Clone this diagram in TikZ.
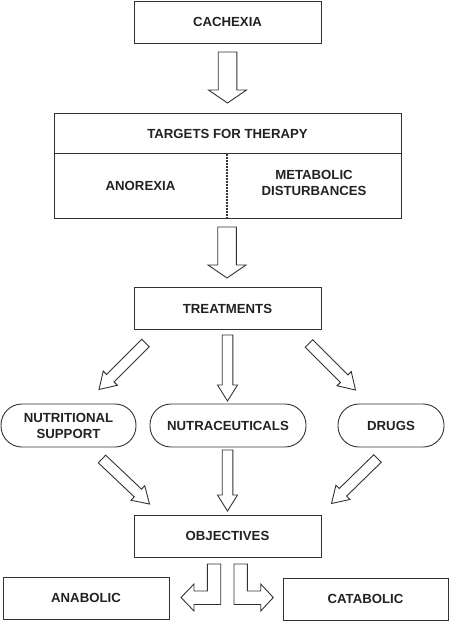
\documentclass[tikz,border=0pt]{standalone}
\usepackage{fontspec}
\setmainfont{Liberation Sans}
\usetikzlibrary{calc}
\definecolor{linec}{HTML}{333333}
\definecolor{txtc}{HTML}{222222}
\newcommand\blockarr[5]{%
  \coordinate (hb) at ($(#2)!#5!(#1)$);
  \draw[arr] ($(#1)!#3!90:(#2)$) -- ($(hb)!#3!90:(#2)$) -- ($(hb)!#4!90:(#2)$) -- (#2)
    -- ($(hb)!#4!-90:(#2)$) -- ($(hb)!#3!-90:(#2)$) -- ($(#1)!#3!-90:(#2)$) -- cycle;}
\begin{document}
\begin{tikzpicture}[x=1pt,y=-1pt,
  lbl/.style={font=\fontsize{13.2}{16}\selectfont\bfseries, text=txtc, align=center, inner sep=0pt},
  box/.style={lbl, draw=linec, line width=0.9pt, minimum height=42pt},
  pill/.style={lbl, draw=linec, line width=0.9pt, minimum height=43pt, rounded corners=21pt},
  arr/.style={draw=linec, line width=0.9pt, fill=white, line join=miter}]
\useasboundingbox (0,0) rectangle (449,621);
\fill[white] (0,0) rectangle (449,621);
% boxes
\node[box, minimum width=187pt] (cachexia) at (227.5,22) {CACHEXIA};
\node[box, minimum width=347pt, minimum height=105pt] (targets) at (227.5,165.5) {};
\coordinate (divl) at (54,153);
\coordinate (divr) at (401,153);
\coordinate (dott) at (227,154);
\coordinate (dotb) at (227,218);
\draw[linec, line width=0.9pt] (divl) -- (divr);
\draw[linec, line width=1.5pt, dash pattern=on 1.5pt off 1.5pt] (dott) -- (dotb);
\node[lbl] (ttitle) at (227.5,133.5) {TARGETS FOR THERAPY};
\node[lbl] (anorexia) at (140.5,186) {ANOREXIA};
\node[lbl] (metab) at (314,183) {METABOLIC\\DISTURBANCES};
\node[box, minimum width=187pt] (treat) at (227.5,308.5) {TREATMENTS};
\node[pill, minimum width=135pt] (nutr) at (68.5,425.5) {NUTRITIONAL\\SUPPORT};
\node[pill, minimum width=156pt] (nutra) at (228,425.5) {NUTRACEUTICALS};
\node[pill, minimum width=106pt] (drugs) at (391,425.5) {DRUGS};
\node[box, minimum width=187pt] (obj) at (227.5,536) {OBJECTIVES};
\node[box, minimum width=166pt] (anab) at (86,598) {ANABOLIC};
\node[box, minimum width=165pt] (catab) at (365.5,599) {CATABOLIC};
% arrow end points
\coordinate (a1s) at (227.5,52);   \coordinate (a1e) at (227.5,103);
\coordinate (a2s) at (227,227);    \coordinate (a2e) at (227,278);
\coordinate (a3s) at (145.5,343);  \coordinate (a3e) at (99,389.5);
\coordinate (a4s) at (227.5,335);  \coordinate (a4e) at (227.5,401);
\coordinate (a5s) at (309,343.5);  \coordinate (a5e) at (355.5,390);
\coordinate (a6s) at (102,459);    \coordinate (a6e) at (149.5,504);
\coordinate (a7s) at (227.5,450);  \coordinate (a7e) at (227.5,511);
\coordinate (a8s) at (377.5,458.5);\coordinate (a8e) at (331.5,503.5);
\blockarr{a1s}{a1e}{9.3pt}{19pt}{13pt}
\blockarr{a2s}{a2e}{9.3pt}{19pt}{13pt}
\blockarr{a3s}{a3e}{5.3pt}{10pt}{16pt}
\blockarr{a4s}{a4e}{5.3pt}{10pt}{16pt}
\blockarr{a5s}{a5e}{5.3pt}{10pt}{16pt}
\blockarr{a6s}{a6e}{5.3pt}{10pt}{16pt}
\blockarr{a7s}{a7e}{5.3pt}{10pt}{16pt}
\blockarr{a8s}{a8e}{5.3pt}{10pt}{16pt}
% L-shaped arrows
\draw[arr] (220.7,564) -- (207.3,564) -- (207.3,591) -- (194,591) -- (194,584) -- (181,597.5)
  -- (194,611) -- (194,604.5) -- (220.7,604.5) -- cycle;
\draw[arr] (234,564) -- (247.3,564) -- (247.3,591) -- (260.7,591) -- (260.7,584) -- (273.3,597.5)
  -- (260.7,611) -- (260.7,604.5) -- (234,604.5) -- cycle;
\end{tikzpicture}
\end{document}
